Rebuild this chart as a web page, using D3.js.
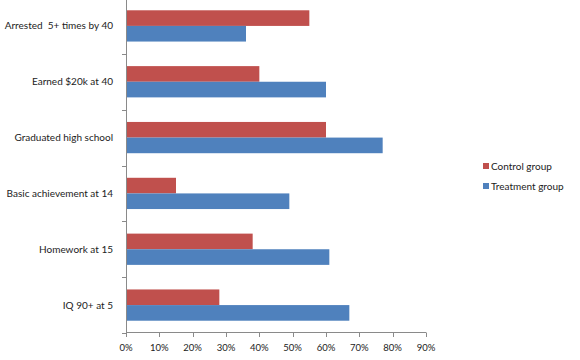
<!DOCTYPE html>
<html><head><meta charset="utf-8">
<script src="https://cdn.jsdelivr.net/npm/d3@7"></script>
<style>body{margin:0;background:#fff}svg{display:block}text{font-family:Lato,"Open Sans",sans-serif;fill:#222;white-space:pre}</style>
</head><body><svg id="c" width="580" height="360"></svg>
<script>
const categories = ["Arrested  5+ times by 40","Earned $20k at 40","Graduated high school","Basic achievement at 14","Homework at 15","IQ 90+ at 5"];
const controlValues = [55,40,60,15,38,28];
const treatmentValues = [36,60,77,49,61,67];
const tickValues = [0,10,20,30,40,50,60,70,80,90];
const seriesNames = ["Control group","Treatment group"];
const colors = ["#C0504D","#4F81BD"];

const svg = d3.select("#c");
const x = d3.scaleLinear().domain([0,90]).range([126,426]);
const y = d3.scaleBand().domain(categories).range([-2,333]).paddingInner(0.44).paddingOuter(0.22);
const yb = d3.scaleBand().domain(categories).range([-2,333]);
const inner = d3.scaleBand().domain(seriesNames).range([0,y.bandwidth()]);

const series = [controlValues, treatmentValues];
series.forEach((vals,si)=>{
  svg.append("g").selectAll("rect").data(categories).join("rect")
    .attr("x",x(0)).attr("y",d=>y(d)+inner(seriesNames[si]))
    .attr("width",(d,i)=>x(vals[i])-x(0)).attr("height",inner.bandwidth())
    .attr("fill",colors[si]);
});

// y axis
const ya = svg.append("g").attr("stroke","#8a8a8a");
ya.append("line").attr("x1",126.5).attr("x2",126.5).attr("y1",-2).attr("y2",333);
const yTicks = categories.map(c=>yb(c)).concat([333]);
ya.selectAll("line.t").data(yTicks).join("line").attr("class","t")
  .attr("x1",122).attr("x2",126.5).attr("y1",d=>Math.round(d)+0.5).attr("y2",d=>Math.round(d)+0.5);
svg.append("g").selectAll("text").data(categories).join("text")
  .attr("x",113).attr("y",d=>yb(d)+yb.bandwidth()/2+3.5)
  .attr("text-anchor","end").attr("font-size",10).text(d=>d);

// x axis
const xa = svg.append("g").attr("stroke","#8a8a8a");
xa.append("line").attr("x1",126).attr("x2",426).attr("y1",332.5).attr("y2",332.5);
xa.selectAll("line.t").data(tickValues).join("line").attr("class","t")
  .attr("x1",d=>Math.round(x(d))+0.5).attr("x2",d=>Math.round(x(d))+0.5).attr("y1",332.5).attr("y2",337);
svg.append("g").selectAll("text").data(tickValues).join("text")
  .attr("x",d=>x(d)).attr("y",351).attr("text-anchor","middle").attr("font-size",9.5).text(d=>d+"%");

// legend
const lg = svg.append("g");
seriesNames.forEach((n,i)=>{
  lg.append("rect").attr("x",483).attr("y",163+i*20).attr("width",6).attr("height",6).attr("fill",colors[i]);
  lg.append("text").attr("x",491).attr("y",170+i*20).attr("font-size",10).text(n);
});
</script></body></html>
